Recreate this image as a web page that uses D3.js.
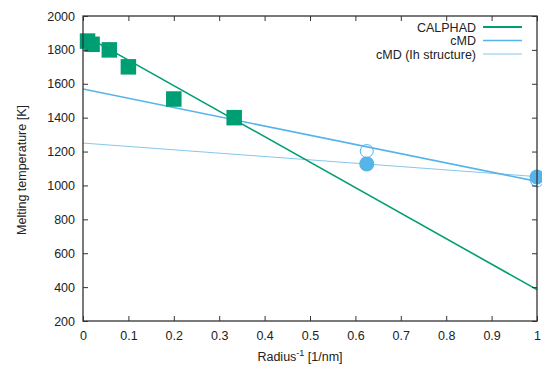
<!DOCTYPE html>
<html>
<head>
<meta charset="utf-8">
<script src="https://cdn.jsdelivr.net/npm/d3@7"></script>
<style>
  body { margin: 0; background: #fff; }
  svg { display: block; font-family: "Liberation Sans", Arial, sans-serif; }
</style>
</head>
<body>
<div id="wrapper"></div>
<script>
// CALPHAD points (1/r, T)
const calphadX = [0.01, 0.02, 0.058, 0.1, 0.2, 0.333];
const calphadY = [1852, 1833, 1800, 1700, 1510, 1400];
// cMD points
const cmdX = [0.625, 1.0];
const cmdY = [1203, 1030];
// cMD (Ih structure) points
const ihX = [0.625, 1.0];
const ihY = [1127, 1050];
// fitted lines, endpoints at 1/r = 0 and 1
const fitX = [0, 1];
const calphadFit = [1890, 385];
const cmdFit = [1569, 1024];
const ihFit = [1250, 1052];

const xTicks = [0, 0.1, 0.2, 0.3, 0.4, 0.5, 0.6, 0.7, 0.8, 0.9, 1];
const yTicks = [200, 400, 600, 800, 1000, 1200, 1400, 1600, 1800, 2000];

const legendNames = ["CALPHAD", "cMD", "cMD (Ih structure)"];

const width = 542, height = 365;
const margin = { top: 16, right: 5, bottom: 44, left: 83 };

const green = "#009e73";
const blue = "#56b4e9";
const lightBlue = "#86c6ec";

const svg = d3.select("#wrapper").append("svg")
  .attr("width", width)
  .attr("height", height);

const x = d3.scaleLinear().domain([0, 1]).range([margin.left, width - margin.right]);
const y = d3.scaleLinear().domain([200, 2000]).range([height - margin.bottom, margin.top]);

const plot = svg.append("g");

const line = d3.line().x(d => x(d[0])).y(d => y(d[1]));

// fit lines
plot.append("path")
  .datum(d3.zip(fitX, ihFit))
  .attr("d", line)
  .attr("fill", "none")
  .attr("stroke", lightBlue)
  .attr("stroke-width", 1);

plot.append("path")
  .datum(d3.zip(fitX, cmdFit))
  .attr("d", line)
  .attr("fill", "none")
  .attr("stroke", blue)
  .attr("stroke-width", 1.6);

plot.append("path")
  .datum(d3.zip(fitX, calphadFit))
  .attr("d", line)
  .attr("fill", "none")
  .attr("stroke", green)
  .attr("stroke-width", 1.6);

// cMD open circles
plot.append("g")
  .selectAll("circle")
  .data(d3.zip(cmdX, cmdY))
  .join("circle")
  .attr("cx", d => x(d[0]))
  .attr("cy", d => y(d[1]))
  .attr("r", 6.5)
  .attr("fill", "none")
  .attr("stroke", blue)
  .attr("stroke-width", 1);

// Ih filled circles
plot.append("g")
  .selectAll("circle")
  .data(d3.zip(ihX, ihY))
  .join("circle")
  .attr("cx", d => x(d[0]))
  .attr("cy", d => y(d[1]))
  .attr("r", 7.5)
  .attr("fill", blue);

// CALPHAD squares
const sq = 15.5;
plot.append("g")
  .selectAll("rect")
  .data(d3.zip(calphadX, calphadY))
  .join("rect")
  .attr("x", d => x(d[0]) - sq / 2)
  .attr("y", d => y(d[1]) - sq / 2)
  .attr("width", sq)
  .attr("height", sq)
  .attr("fill", green);

// axes (ticks drawn inward, mirrored on top/right)
const axisColor = "#333";
const tickLen = 5;

const gx = svg.append("g")
  .attr("transform", `translate(0,${height - margin.bottom})`)
  .call(d3.axisBottom(x).tickValues(xTicks).tickSize(-tickLen).tickPadding(10).tickFormat(d3.format("~g")));
const gxTop = svg.append("g")
  .attr("transform", `translate(0,${margin.top})`)
  .call(d3.axisTop(x).tickValues(xTicks).tickSize(-tickLen).tickFormat(""));
const gy = svg.append("g")
  .attr("transform", `translate(${margin.left},0)`)
  .call(d3.axisLeft(y).tickValues(yTicks).tickSize(-tickLen).tickPadding(8).tickFormat(d3.format("d")));
const gyRight = svg.append("g")
  .attr("transform", `translate(${width - margin.right},0)`)
  .call(d3.axisRight(y).tickValues(yTicks).tickSize(-tickLen).tickFormat(""));

[gx, gxTop, gy, gyRight].forEach(g => {
  g.select(".domain").remove();
  g.selectAll("line").attr("stroke", axisColor).attr("stroke-width", 1);
  g.selectAll("text")
    .attr("fill", "#222")
    .style("font-size", "12.5px")
    .style("font-family", "'Liberation Sans', Arial, sans-serif");
});

// frame
svg.append("rect")
  .attr("x", margin.left)
  .attr("y", margin.top)
  .attr("width", width - margin.left - margin.right)
  .attr("height", height - margin.top - margin.bottom)
  .attr("fill", "none")
  .attr("stroke", axisColor)
  .attr("stroke-width", 1.3);

// axis titles
const xl = svg.append("text")
  .attr("x", 300)
  .attr("y", 361)
  .attr("text-anchor", "middle")
  .attr("fill", "#222")
  .style("font-size", "12.5px");
xl.append("tspan").text("Radius");
xl.append("tspan").attr("dy", -5).style("font-size", "9px").text("-1");
xl.append("tspan").attr("dy", 5).text(" [1/nm]");

svg.append("text")
  .attr("transform", "translate(26,170) rotate(-90)")
  .attr("text-anchor", "middle")
  .attr("fill", "#222")
  .style("font-size", "12.5px")
  .text("Melting temperature [K]");

// legend
const legendColors = [green, blue, lightBlue];
const legendWidths = [1.8, 1.6, 1];
const legend = svg.append("g");
legendNames.forEach((name, i) => {
  const ly = 27 + i * 13.5;
  legend.append("text")
    .attr("x", 476)
    .attr("y", ly + 4.5)
    .attr("text-anchor", "end")
    .attr("fill", "#222")
    .style("font-size", "12.5px")
    .text(name);
  legend.append("line")
    .attr("x1", 483).attr("x2", 522)
    .attr("y1", ly).attr("y2", ly)
    .attr("stroke", legendColors[i])
    .attr("stroke-width", legendWidths[i]);
});
</script>
</body>
</html>
